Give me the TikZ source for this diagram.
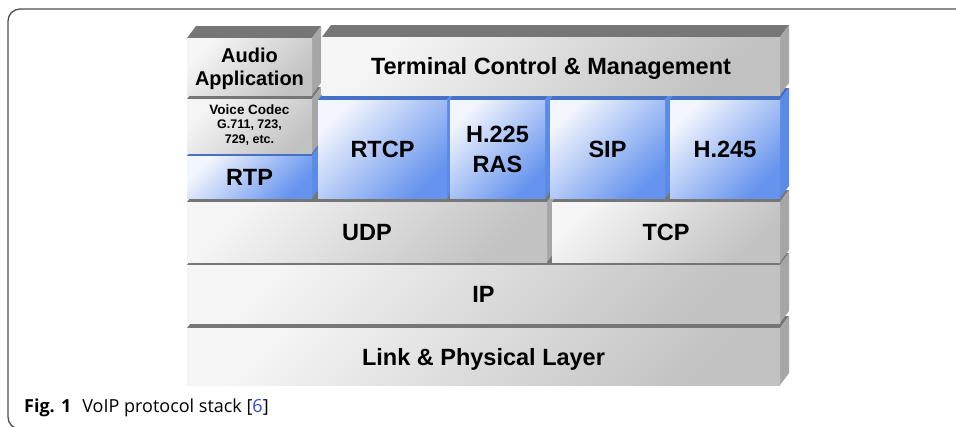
\documentclass[tikz,border=0pt]{standalone}
\usepackage{fontspec}
\setmainfont{Liberation Sans}
\newfontfamily\capfont{Open Sans}
\definecolor{gL}{HTML}{F5F5F5}
\definecolor{gD}{HTML}{C2C2C2}
\definecolor{gTop}{HTML}{767676}
\definecolor{gSide}{HTML}{A6A6A6}
\definecolor{bL}{HTML}{F2F5FD}
\definecolor{bD}{HTML}{6593EE}
\definecolor{bTop}{HTML}{4470C8}
\definecolor{bSide}{HTML}{5B8BE4}
\definecolor{frameC}{HTML}{505050}
\definecolor{refC}{HTML}{2A4BD7}
\tikzset{
  gfront/.style={top color=gL, bottom color=gD, shading angle=45},
  bfront/.style={top color=bL, bottom color=bD, shading angle=45},
  gtop/.style={fill=gTop}, btop/.style={fill=bTop},
  gside/.style={fill=gSide}, bside/.style={fill=bSide},
  lbl/.style={font=\bfseries\fontsize{23.5}{30}\selectfont, align=center, inner sep=0pt, text depth=0pt},
}
% #1 kind (g/b), #2 x1, #3 y1, #4 x2, #5 y2, #6 node name, #7 extra label style, #8 text
\newcommand\blk[8]{%
  \fill[#1top] (#2,#3) -- (#2+9,#3-12) -- (#4+9,#3-12) -- (#4,#3) -- cycle;
  \fill[#1side] (#4,#3) -- (#4+9,#3-12) -- (#4+9,#5-12) -- (#4,#5) -- cycle;
  \path[#1front] (#2,#3) rectangle (#4,#5);
  \node[lbl,#7] (#6) at ({(#2+#4)/2},{(#3+#5)/2}) {#8};
}
\begin{document}
\begin{tikzpicture}[x=1pt,y=-1pt]
\useasboundingbox (0,0) rectangle (956,426);
\clip (0,0) rectangle (956,426);
\fill[white] (0,0) rectangle (956,426);
% frame
\draw[frameC, line width=1.3pt, rounded corners=12pt] (970,9) -- (8,9) -- (8,429) -- (100,429);
% bottom rows
\blk{g}{187}{328}{780}{385}{link}{}{Link \& Physical Layer}
\blk{g}{187}{265}{780}{323}{ip}{}{IP}
\blk{g}{187}{202}{547}{262}{udp}{}{UDP}
\blk{g}{552}{202}{780}{262}{tcp}{}{TCP}
% second row
\blk{b}{187}{156}{312}{198}{rtp}{}{RTP}
\blk{g}{187}{99}{312}{153}{codec}{font=\bfseries\fontsize{12.5}{14.5}\selectfont, yshift=2pt}{{\fontsize{13.5}{15}\selectfont Voice Codec}\\G.711, 723,\\729, etc.}
\blk{b}{318}{100}{447}{198}{rtcp}{}{RTCP}
\blk{b}{450}{100}{545}{198}{ras}{}{H.225\\RAS}
\blk{b}{550}{100}{665}{198}{sip}{}{SIP}
\blk{b}{670}{100}{780}{198}{h245}{}{H.245}
% top row
\blk{g}{187}{38}{312}{95}{audio}{font=\bfseries\fontsize{20}{23}\selectfont}{Audio\\Application}
\blk{g}{322}{37}{780}{95}{term}{}{Terminal Control \& Management}
% caption
\node[anchor=base west, inner sep=0pt, font=\capfont\fontsize{18}{20}\selectfont] (cap) at (24,412)
  {\textbf{Fig. 1}\hspace{11pt}VoIP protocol stack [\textcolor{refC}{6}]};
\end{tikzpicture}
\end{document}
